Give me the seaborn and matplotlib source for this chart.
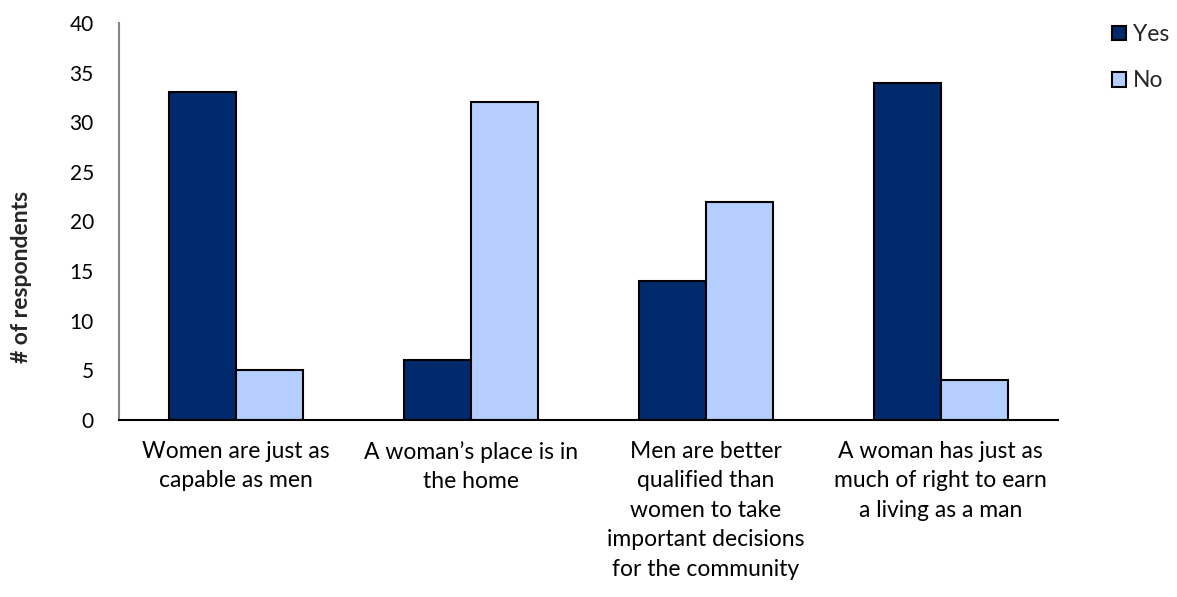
import matplotlib
matplotlib.use("Agg")
import matplotlib.pyplot as plt
import seaborn as sns
import pandas as pd

categories = [
    "Women are just as\ncapable as men",
    "A woman\u2019s place is in\nthe home",
    "Men are better\nqualified than\nwomen to take\nimportant decisions\nfor the community",
    "A woman has just as\nmuch of right to earn\na living as a man",
]
yes_values = [33, 6, 14, 34]
no_values = [5, 32, 22, 4]
series = ["Yes", "No"]
colors = {"Yes": "#002A6C", "No": "#B3CEFF"}

df = pd.DataFrame({
    "category": categories * 2,
    "answer": ["Yes"] * 4 + ["No"] * 4,
    "count": yes_values + no_values,
})

sns.set_theme(style="white")
plt.rcParams["font.family"] = ["Lato", "DejaVu Sans"]

fig = plt.figure(figsize=(11.77, 5.97), dpi=100)
ax = fig.add_axes([0.101, 0.2965, 0.798, 0.665])

sns.barplot(data=df, x="category", y="count", hue="answer", hue_order=series,
            palette=colors, width=0.57, edgecolor="black", linewidth=1.5,
            saturation=1, ax=ax)

ax.set_ylim(0, 40)
ax.set_yticks(range(0, 41, 5))
ax.set_xlim(-0.5, 3.5)
ax.tick_params(axis="y", length=0, labelsize=15, colors="black", pad=18)
ax.tick_params(axis="x", length=0, labelsize=16.5, colors="black", pad=15)
for lbl in ax.get_xticklabels():
    lbl.set_linespacing(1.5)
ax.set_xlabel("")
ax.set_ylabel("# of respondents", fontsize=16.5, fontweight="bold")
ax.yaxis.set_label_coords(-0.092, 0.36)
for s in ["top", "right"]:
    ax.spines[s].set_visible(False)
ax.spines["left"].set_color("#868686")
ax.spines["left"].set_linewidth(1.5)
ax.spines["bottom"].set_color("#000000")
ax.spines["bottom"].set_linewidth(1.5)

leg = ax.legend(loc="upper left", bbox_to_anchor=(1.048, 1.02), frameon=False,
                fontsize=16.5, handlelength=0.6, handleheight=0.6,
                handletextpad=0.3, labelspacing=1.1, borderaxespad=0)
for h in leg.legend_handles:
    h.set_edgecolor("black")
    h.set_linewidth(1.5)

fig.savefig("out.png", dpi=100)
